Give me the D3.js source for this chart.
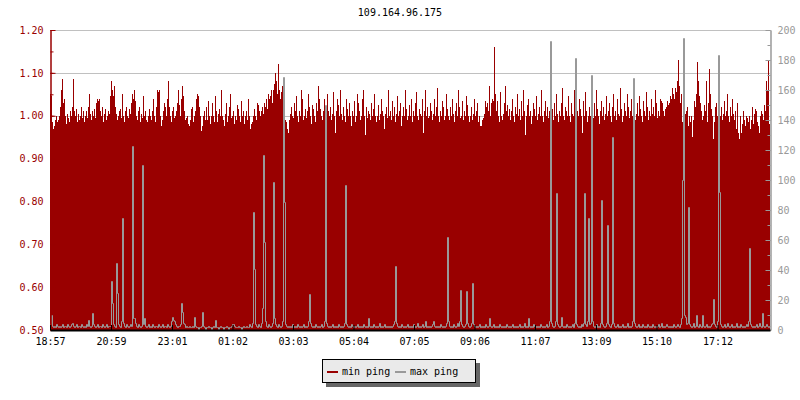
<!DOCTYPE html>
<html><head><meta charset="utf-8">
<script src="https://cdn.jsdelivr.net/npm/d3@7/dist/d3.min.js"></script>
<style>
body{margin:0;background:#fff}
text{font-family:"DejaVu Sans Mono","Liberation Mono",monospace;font-size:10px}
</style>
</head><body>
<svg id="chart" width="800" height="400"></svg>
<script>
const title = "109.164.96.175";
const seriesNames = ["min ping", "max ping"];
const timeLabels = ["18:57","20:59","23:01","01:02","03:03","05:04","07:05","09:06","11:07","13:09","15:10","17:12"];
const leftTicks = [0.5,0.6,0.7,0.8,0.9,1.0,1.1,1.2];
const rightTicks = [0,20,40,60,80,100,120,140,160,180,200];
const sampleMinutes = 2;
// min ping, microseconds (one sample every 2 minutes)
const minPingUs = [
1050,1045,985,970,975,990,1000,985,990,1000,1020,1060,1085,1030,1040,1000,980,1005,995,985,
1010,1000,1020,1085,1010,1000,1015,985,1005,990,1000,1020,995,1010,985,1000,1010,995,1020,1050,
1005,990,1010,1000,1015,995,1030,1040,1035,1040,1010,1000,1020,985,1005,1015,990,1000,1010,1005,
1045,1080,1060,1045,1070,1020,1005,990,1000,1010,1015,995,1050,1000,985,1010,1020,1000,995,1015,
1005,1030,1050,1040,1060,1035,1000,990,1010,1020,985,1005,995,1045,1000,1010,990,985,1000,1015,
1000,990,1010,1040,1000,985,1020,1060,1055,1060,1000,975,990,1010,1030,1020,1000,1040,1080,1020,
1000,985,1010,1020,995,1000,1010,1030,1060,1025,1000,1040,1070,1045,1010,990,995,1000,980,975,
990,1015,1020,985,1000,1010,1040,1050,1045,1020,1000,965,975,1000,1010,990,1020,990,1035,1000,
980,1000,1030,1000,985,1045,1010,985,1005,1015,1000,1060,1000,990,975,1005,1030,985,1000,1020,
1050,995,1000,1010,980,1000,990,1025,1015,1000,985,1035,1000,1010,980,1000,1010,990,1040,1000,
970,980,985,1000,1015,1000,990,1030,1025,1010,1000,1010,1020,1005,1030,1020,1040,1015,1050,1040,
1045,1060,1030,1060,1075,1100,1080,1050,1120,1060,1040,1055,1070,1080,1020,990,985,970,960,990,
1005,1020,1000,995,1030,1010,1045,1000,985,1010,1000,1060,1040,990,1000,1015,995,1010,1050,1020,
1000,980,1025,1015,1000,985,1030,1010,1070,1040,1015,1000,990,1010,1040,1000,985,1050,1010,1000,
1020,990,1005,1055,1000,960,1010,1040,1025,1000,1060,1005,990,1020,1000,985,1040,1015,1000,1030,
1000,975,1010,1000,1035,985,1000,1050,1030,1010,990,1000,1040,1060,1000,955,1020,995,1010,1005,
990,1030,1000,1015,1050,1000,985,1000,1025,990,1005,1040,1010,1000,970,1005,1020,995,1060,1000,
1010,990,1035,1000,1020,985,1005,1045,1000,1010,1030,975,1000,1020,1000,1060,1015,990,1000,1025,
1000,1040,985,1010,1000,1030,1055,1000,990,1015,1005,1000,1040,960,1010,1060,1000,1020,995,1000,
1030,1010,990,1005,1040,1000,1020,1065,1000,985,1010,1000,1035,1020,990,1000,1050,1015,1000,990,
1020,1000,1040,1005,985,1010,1030,1000,1060,1020,995,1000,1035,990,1010,1000,1045,1025,1000,985,
1000,1020,990,1005,1040,1000,1010,1030,985,1000,975,975,990,995,1005,1035,1020,1030,1010,1070,
1000,1030,1040,1035,1160,1050,1010,1035,1000,985,1055,1000,990,1005,1030,1070,1010,1025,1000,1015,
990,1010,1040,1000,985,1020,1005,1050,1000,1015,990,1035,1000,1060,1010,955,1000,1025,1040,1000,
1010,980,1000,1030,1015,1000,1045,990,1005,1020,1000,1060,1000,985,1010,1035,1000,1020,995,1010,
1040,1000,1015,990,1030,1000,1050,1005,985,1010,1000,1030,1065,1000,990,1020,1010,1000,1045,1000,
985,1030,1005,1000,1060,1020,990,1010,1000,1040,1015,1000,960,1035,1000,1055,1010,985,1000,1020,
1000,1040,1010,995,1030,1000,1060,1015,1000,980,1010,1035,1000,1020,990,1005,1045,1000,1010,1030,
1000,985,1020,1050,1000,1010,990,1040,1005,1000,1065,1015,985,1000,1030,1010,1000,1050,1020,995,
1010,1040,1000,1060,1020,990,1005,1030,1000,1045,1015,1000,985,1035,1010,1000,1055,1020,990,1010,
1000,1040,1005,1020,1000,1060,1030,995,1010,1000,1040,1035,1030,1010,1000,1015,1020,1035,1025,1030,
1045,1040,1065,1050,1040,1065,1055,1080,1130,1070,1030,1050,985,1000,990,1005,1010,1020,975,1000,
985,1000,950,990,1035,1020,1050,1125,1080,1045,1030,1010,990,1000,1025,1010,1080,985,1030,1110,
1050,1015,1000,945,985,1020,1030,1000,1025,1030,1000,1020,990,1005,1035,1000,1010,1050,1000,985,
1020,1000,1040,1005,990,1010,970,1030,960,945,1000,960,980,1010,990,975,1000,995,985,1000,
970,990,1020,980,1005,1015,1010,985,975,960,1000,1010,1005,990,1025,1010,1080,1060,1130,980
];
// max ping, milliseconds
const maxPingMs = [
4,10,3,2,3,2,4,3,2,3,2,3,4,2,3,3,2,4,3,2,
3,4,5,3,2,3,4,2,3,3,2,4,3,2,3,2,4,3,7,3,
2,3,11,4,3,2,3,4,2,3,3,2,4,3,2,3,4,2,3,3,
3,33,18,4,3,2,45,25,4,3,2,6,75,5,3,2,4,3,2,3,
4,3,123,8,8,5,3,2,4,3,2,3,110,4,8,3,2,3,4,2,
3,2,4,3,2,3,3,2,4,3,2,3,4,2,3,3,2,4,3,2,
3,6,9,7,6,4,3,2,3,3,4,18,12,5,4,2,3,2,2,3,
2,2,3,2,9,3,2,2,1,2,2,3,12,3,2,1,2,2,3,2,
2,1,2,3,2,7,2,2,1,2,3,2,2,1,2,2,3,2,1,2,
2,3,4,4,3,2,2,2,3,2,2,1,2,3,2,2,3,2,2,4,
3,2,5,79,41,4,3,2,4,3,2,5,15,117,59,6,3,2,4,3,
2,3,5,99,8,4,3,2,4,3,2,3,6,169,85,4,3,2,3,2,
3,2,4,3,2,3,2,4,3,2,3,2,3,4,2,3,2,3,6,24,
5,3,2,3,2,4,3,2,3,2,3,4,2,3,6,150,5,3,2,3,
2,3,4,2,3,2,3,2,4,3,2,3,2,3,5,97,4,3,2,3,
2,4,3,2,3,2,3,4,2,3,2,3,2,4,3,2,3,2,8,3,
2,3,2,4,3,2,3,2,3,5,2,3,2,3,4,2,3,2,3,2,
3,2,3,4,6,43,5,3,2,3,2,4,3,2,3,2,3,4,2,3,
2,3,2,4,3,2,3,5,2,3,2,3,4,2,3,6,2,3,2,3,
2,3,4,6,3,2,3,2,3,2,4,3,2,3,2,3,5,62,6,3,
2,3,2,4,3,2,3,5,3,6,27,4,3,2,3,4,26,5,3,2,
3,5,31,4,3,2,3,2,3,4,2,3,2,3,2,4,3,2,3,8,
3,2,3,4,2,3,2,3,2,4,3,2,3,2,3,2,4,3,2,3,
2,3,4,2,3,2,3,2,3,4,2,3,2,3,5,2,3,2,8,3,
2,3,2,4,3,2,3,2,3,2,4,3,2,3,2,3,4,2,3,6,
193,5,3,2,3,6,91,4,3,2,3,9,3,2,3,2,4,3,2,3,
2,3,4,2,5,181,4,3,2,3,2,4,3,5,91,4,3,6,75,4,
5,170,6,3,2,3,4,2,3,2,5,87,4,3,2,3,5,70,4,3,
2,4,129,5,3,2,3,4,2,3,2,3,4,2,3,2,3,5,2,3,
2,3,6,168,5,3,2,3,4,2,3,2,4,3,2,3,2,4,3,2,
3,2,4,3,2,3,2,3,4,2,3,5,2,3,2,3,4,3,2,3,
2,3,2,4,3,2,3,4,3,2,4,8,100,195,10,9,4,5,82,4,
3,2,3,5,2,3,10,3,2,4,3,2,10,3,2,3,4,2,3,2,
3,4,5,21,4,3,2,6,183,92,4,3,2,3,4,2,3,5,3,2,
3,4,2,3,2,3,5,2,3,2,4,3,2,3,2,3,4,3,6,55,
4,3,2,3,2,3,4,2,3,5,3,2,11,3,2,3,4,3,2,3
];

const RED = "#990000", GRAY = "#999999";
const L = 50, R = 770, T = 30, B = 330;
const svg = d3.select("#chart");
const N = minPingUs.length;

const x = d3.scaleLinear().domain([0, N * sampleMinutes]).range([L, R]);
const yL = d3.scaleLinear().domain([0.5, 1.2]).range([B, T]);
const yR = d3.scaleLinear().domain([0, 200]).range([B, T]);

// minutes since first label for each tick label
const toMin = s => { const [h, m] = s.split(":").map(Number); return h * 60 + m; };
const t0 = toMin(timeLabels[0]);
const tickMinutes = timeLabels.map(s => ((toMin(s) - t0) + 1440) % 1440);

// title
svg.append("text").attr("x", 400).attr("y", 16).attr("text-anchor", "middle")
  .attr("fill", "#000").text(title);

// grid
svg.append("g").selectAll("line").data(leftTicks.filter(v => v > 0.5)).join("line")
  .attr("x1", L).attr("x2", R)
  .attr("y1", d => Math.round(yL(d)) + 0.5).attr("y2", d => Math.round(yL(d)) + 0.5)
  .attr("stroke", "#c0c0c0").attr("stroke-width", 1);

// min ping bars
svg.append("g").attr("shape-rendering", "crispEdges").selectAll("rect")
  .data(minPingUs).join("rect")
  .attr("x", (d, i) => x(i * sampleMinutes))
  .attr("width", (d, i) => x((i + 1) * sampleMinutes) - x(i * sampleMinutes))
  .attr("y", d => yL(d / 1000))
  .attr("height", d => yL(0.5) - yL(d / 1000))
  .attr("fill", RED);

// max ping step line
const line = d3.line()
  .x(d => Math.round(x(d[0])) + 0.5)
  .y(d => Math.round(yR(d[1])) + 0.5)
  .curve(d3.curveStepAfter);
const pts = maxPingMs.map((v, i) => [i * sampleMinutes, v]);
pts.push([N * sampleMinutes, maxPingMs[N - 1]]);
svg.append("path").attr("d", line(pts)).attr("fill", "none")
  .attr("stroke", GRAY).attr("stroke-width", 1);

// left axis
const gl = svg.append("g").attr("transform", `translate(${L + 0.5},0)`);
gl.call(d3.axisLeft(yL).tickValues(yL.ticks(14)).tickSizeInner(-3).tickSizeOuter(0).tickFormat(""));
gl.call(g => g.selectAll(".tick line").attr("stroke", RED));
const gl2 = svg.append("g").attr("transform", `translate(${L + 0.5},0)`);
gl2.call(d3.axisLeft(yL).tickValues(leftTicks).tickSizeInner(-5).tickSizeOuter(0).tickPadding(7).tickFormat(d3.format(".2f")));
[gl, gl2].forEach(g => {
  g.select(".domain").attr("stroke", RED);
  g.selectAll(".tick line").attr("stroke", RED);
  g.selectAll("text").attr("fill", RED).style("font-family", null).style("font-size", null)
    .attr("font-family", null).attr("font-size", null);
});

// right axis
const gr = svg.append("g").attr("transform", `translate(${R + 0.5},0)`);
gr.call(d3.axisRight(yR).tickValues(yR.ticks(20)).tickSizeInner(-3).tickSizeOuter(0).tickFormat(""));
const gr2 = svg.append("g").attr("transform", `translate(${R + 0.5},0)`);
gr2.call(d3.axisRight(yR).tickValues(rightTicks).tickSizeInner(-5).tickSizeOuter(0).tickPadding(7));
[gr, gr2].forEach(g => {
  g.select(".domain").attr("stroke", GRAY);
  g.selectAll(".tick line").attr("stroke", GRAY);
  g.selectAll("text").attr("fill", GRAY).attr("font-family", null).attr("font-size", null);
});

// bottom axis
const gb = svg.append("g").attr("transform", `translate(0,${B})`);
gb.call(d3.axisBottom(x).tickValues(tickMinutes).tickSizeInner(-5).tickSizeOuter(0).tickPadding(8)
  .tickFormat((d, i) => timeLabels[i]));
gb.select(".domain").attr("stroke", "#000").attr("stroke-width", 2);
gb.selectAll(".tick line").attr("stroke", "#000");
gb.selectAll("text").attr("fill", "#000").attr("font-family", null).attr("font-size", null);

// legend
const lg = svg.append("g").attr("shape-rendering", "crispEdges");
lg.append("rect").attr("x", 326).attr("y", 363).attr("width", 154).attr("height", 24).attr("fill", "#666");
lg.append("rect").attr("x", 322.5).attr("y", 359.5).attr("width", 153).attr("height", 23)
  .attr("fill", "#eaeaea").attr("stroke", "#000");
const items = [{name: seriesNames[0], color: RED, x: 327}, {name: seriesNames[1], color: GRAY, x: 395}];
items.forEach(it => {
  lg.append("rect").attr("x", it.x).attr("y", 371).attr("width", 11).attr("height", 2).attr("fill", it.color);
  lg.append("text").attr("x", it.x + 15).attr("y", 375).attr("fill", "#000").text(it.name);
});
</script>
</body></html>
